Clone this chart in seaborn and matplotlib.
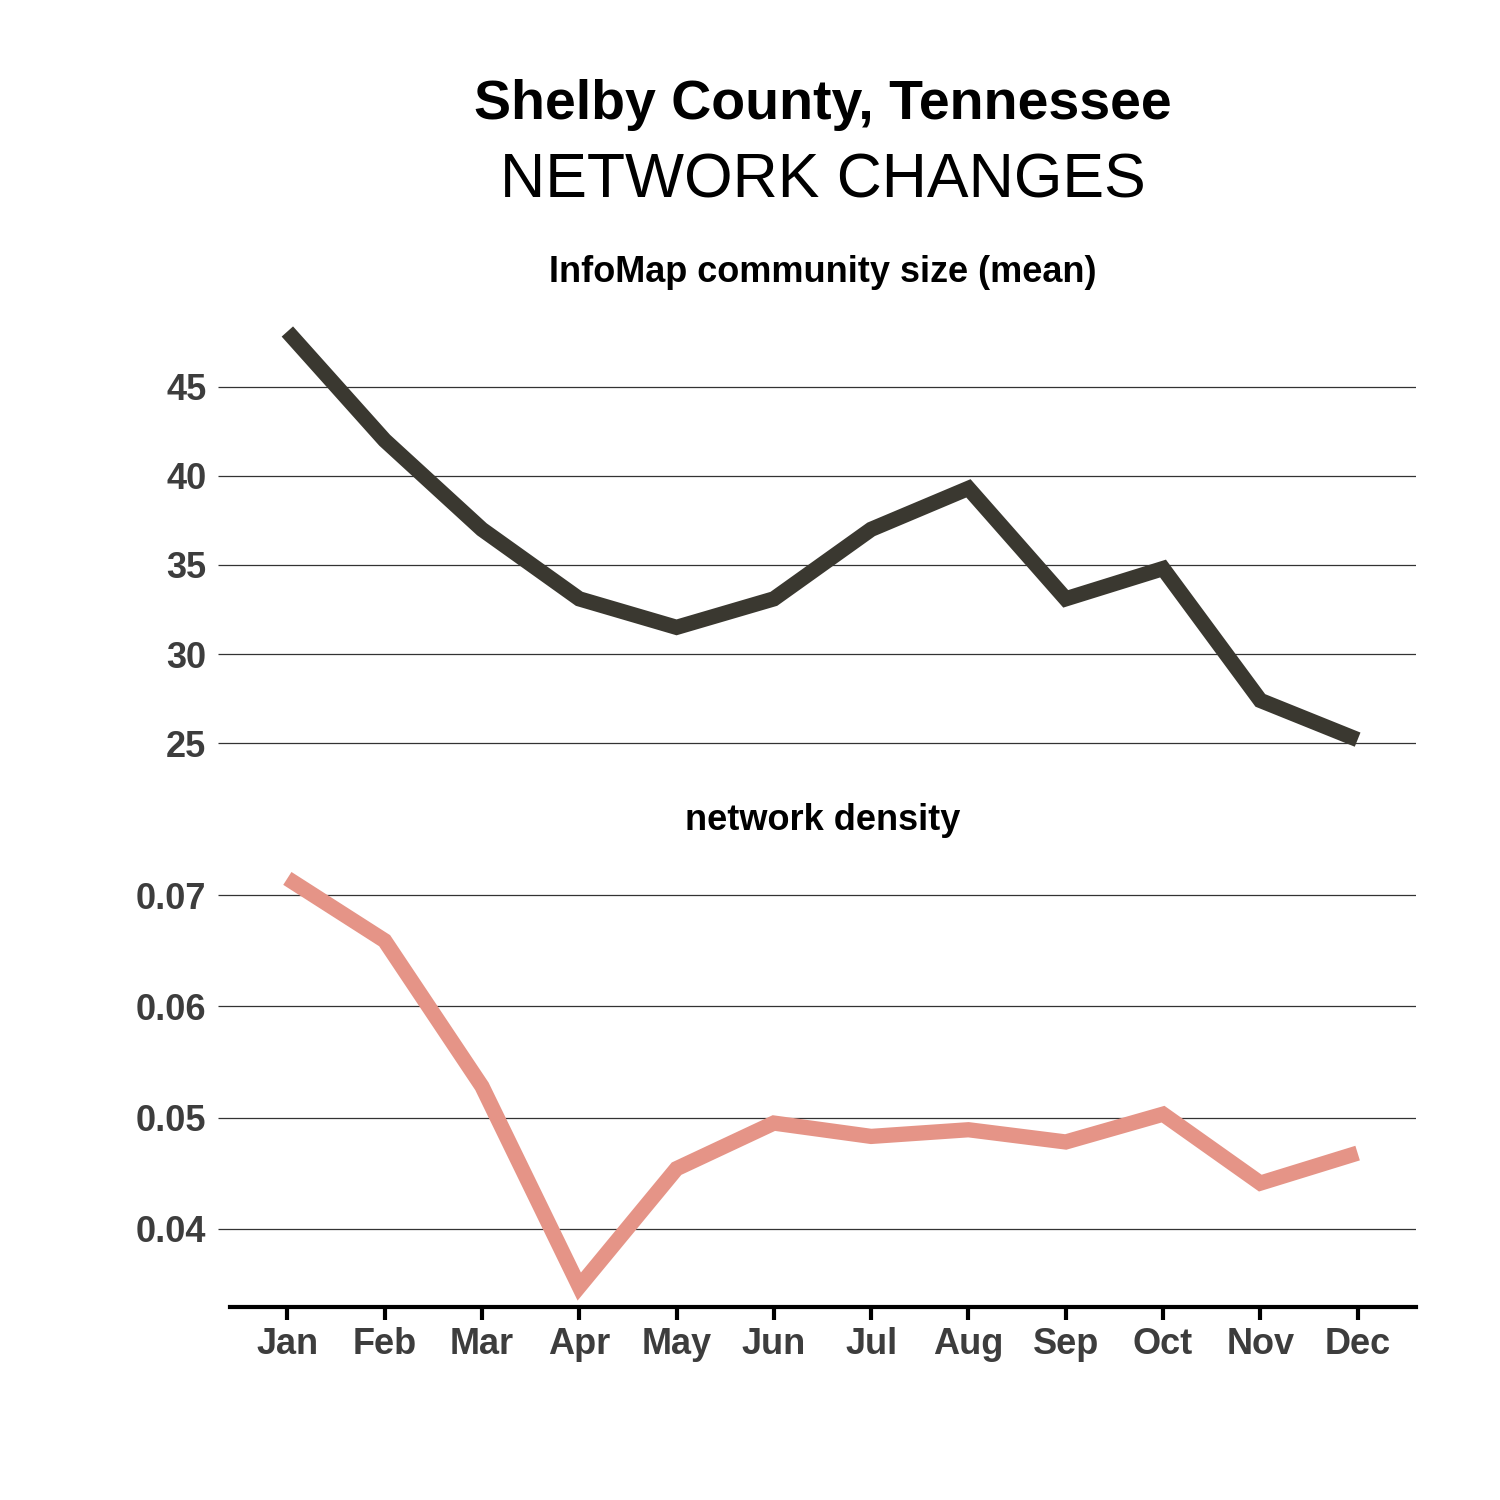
import matplotlib
matplotlib.use("Agg")
import matplotlib.pyplot as plt
import seaborn as sns
import pandas as pd

months = ["Jan", "Feb", "Mar", "Apr", "May", "Jun", "Jul", "Aug", "Sep", "Oct", "Nov", "Dec"]
community_size = [48.1, 42.0, 37.0, 33.1, 31.5, 33.1, 37.0, 39.3, 33.1, 34.8, 27.4, 25.2]
density = [0.0715, 0.0659, 0.0528, 0.0348, 0.0454, 0.0495, 0.0483, 0.0489, 0.0478, 0.0503, 0.0441, 0.0468]
size_ticks = [25, 30, 35, 40, 45]
density_ticks = [0.04, 0.05, 0.06, 0.07]

sns.set_theme(style="white")
plt.rcParams["font.family"] = ["Liberation Sans", "DejaVu Sans"]

df = pd.DataFrame({"month": months, "idx": range(len(months)),
                   "size": community_size, "density": density})

fig = plt.figure(figsize=(15, 15), dpi=100)
left, width = 0.1533, 0.7907
ax1 = fig.add_axes([left, 0.4933, width, 0.2993])
ax2 = fig.add_axes([left, 0.1287, width, 0.2993])

dark = "#3a3830"
pink = "#e59487"
grid_c = "#333333"
tick_c = "#3d3d3d"

for ax, col, colr, ticks, fmt in [(ax1, "size", dark, size_ticks, "{:g}"),
                                  (ax2, "density", pink, density_ticks, "{:.2f}")]:
    sns.lineplot(data=df, x="idx", y=col, ax=ax, color=colr, linewidth=11,
                 solid_capstyle="butt", solid_joinstyle="miter")
    vals = df[col]
    rng = vals.max() - vals.min()
    ax.set_ylim(vals.min() - 0.05 * rng, vals.max() + 0.05 * rng)
    ax.set_xlim(-0.59, 11.6)
    ax.set_yticks(ticks)
    ax.set_yticklabels([fmt.format(t) for t in ticks])
    ax.yaxis.grid(True, color=grid_c, linewidth=0.9)
    ax.xaxis.grid(False)
    ax.set_axisbelow(True)
    for s in ax.spines.values():
        s.set_visible(False)
    ax.tick_params(axis="y", length=9, width=0.9, color=grid_c, labelsize=26,
                   labelcolor=tick_c, pad=8, left=True)
    for lab in ax.get_yticklabels():
        lab.set_fontweight("bold")
    ax.set_xlabel("")
    ax.set_ylabel("")

ax1.set_xticks([])
ax2.set_xticks(df["idx"])
ax2.set_xticklabels(months)
ax2.spines["bottom"].set_visible(True)
ax2.spines["bottom"].set_color("black")
ax2.spines["bottom"].set_linewidth(3)
ax2.tick_params(axis="x", length=9.5, width=3, color="black", labelsize=26,
                labelcolor=tick_c, pad=5, bottom=True)
for lab in ax2.get_xticklabels():
    lab.set_fontweight("bold")

cx = left + width / 2
fig.text(cx, 1 - 105 / 1500, "Shelby County, Tennessee", ha="center", va="center",
         fontsize=40, fontweight="bold", color="black")
fig.text(cx, 1 - 181 / 1500, "NETWORK CHANGES", ha="center", va="center",
         fontsize=45, color="black")
fig.text(cx, 1 - 273 / 1500, "InfoMap community size (mean)", ha="center", va="center",
         fontsize=26, fontweight="bold", color="black")
fig.text(cx, 1 - 821 / 1500, "network density", ha="center", va="center",
         fontsize=26, fontweight="bold", color="black")

fig.savefig("out.png", dpi=100, facecolor="white")
